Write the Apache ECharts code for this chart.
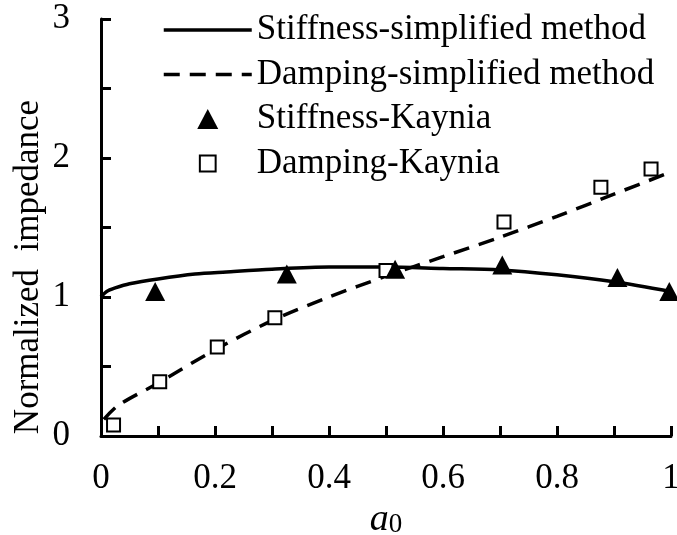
<!DOCTYPE html>
<html>
<head>
<meta charset="utf-8">
<script src="https://cdn.jsdelivr.net/npm/echarts@6/dist/echarts.min.js"></script>
<style>
html,body{margin:0;padding:0;background:#fff;}
#chart{width:677px;height:535px;}
</style>
</head>
<body>
<div id="chart"></div>
<script>
// ---- data ----
var seriesNames = ['Stiffness-simplified method', 'Damping-simplified method', 'Stiffness-Kaynia', 'Damping-Kaynia'];
var stiffSimpX = [0, 0.01, 0.025, 0.05, 0.1, 0.165, 0.22, 0.3, 0.4, 0.5, 0.6, 0.7, 0.8, 0.9, 1.0];
var stiffSimpY = [1.0, 1.04, 1.065, 1.095, 1.13, 1.165, 1.18, 1.2, 1.215, 1.215, 1.205, 1.195, 1.16, 1.11, 1.04];
var dampSimpX = [0.005, 0.03, 0.1, 0.2, 0.3, 0.4, 0.5, 0.6, 0.7, 0.8, 0.9, 1.0];
var dampSimpY = [0.12, 0.22, 0.38, 0.62, 0.83, 1.0, 1.15, 1.29, 1.43, 1.58, 1.74, 1.9];
var stiffKayX = [0.095, 0.326, 0.516, 0.704, 0.906, 0.997];
var stiffKayY = [1.04, 1.165, 1.2, 1.23, 1.14, 1.04];
var dampKayX = [0.022, 0.103, 0.204, 0.305, 0.5, 0.707, 0.877, 0.965];
var dampKayY = [0.08, 0.39, 0.64, 0.85, 1.19, 1.54, 1.79, 1.92];
var xTicks = [0, 0.2, 0.4, 0.6, 0.8, 1];
var yTicks = [0, 1, 2, 3];
var xTitle = 'a';
var xTitleSub = '0';
var yTitle = 'Normalized  impedance';

function zip(xs, ys) { return xs.map(function (x, i) { return [x, ys[i]]; }); }
function isTick(v, list) { return list.some(function (t) { return Math.abs(t - v) < 1e-6; }); }

var FONT = "'Liberation Serif', 'Times New Roman', serif";
var hiddenSym = { color: 'rgba(0,0,0,0)', borderWidth: 0, opacity: 0 };
var DASH = [16, 10];
var chart = echarts.init(document.getElementById('chart'), null, { renderer: 'canvas' });
chart.setOption({
  backgroundColor: '#fff',
  animation: false,
  grid: { left: 101, right: 6, top: 19, bottom: 99, containLabel: false, outerBoundsMode: 'none' },
  legend: {
    data: [
      { name: seriesNames[0], itemStyle: hiddenSym, lineStyle: { width: 3.5, color: '#000', type: 'solid' } },
      { name: seriesNames[1], itemStyle: hiddenSym, lineStyle: { width: 3.5, color: '#000', type: DASH } },
      { name: seriesNames[2], icon: 'path://M10,0L20,19L0,19Z', itemStyle: { color: '#000', borderWidth: 0 } },
      { name: seriesNames[3], icon: 'path://M0,0M2,2L17,2L17,17L2,17ZM19,19', itemStyle: { color: '#fff', borderColor: '#000', borderWidth: 2 } }
    ],
    orient: 'vertical',
    left: 162,
    top: 12,
    padding: 0,
    itemWidth: 88,
    itemHeight: 20,
    itemGap: 8.5,
    symbolKeepAspect: true,
    textStyle: { fontFamily: FONT, fontSize: 35, color: '#000', lineHeight: 36 }
  },
  xAxis: {
    type: 'value', min: 0, max: 1, interval: 0.1,
    axisLine: { show: true, lineStyle: { color: '#000', width: 3 } },
    axisTick: { show: true, inside: true, length: 10, lineStyle: { color: '#000', width: 3 } },
    splitLine: { show: false },
    axisLabel: {
      margin: 25, fontFamily: FONT, fontSize: 35, color: '#000',
      formatter: function (v) { return isTick(v, xTicks) ? String(Math.round(v * 10) / 10) : ''; }
    },
    name: '{a|' + xTitle + '}{s|' + xTitleSub + '}',
    nameLocation: 'middle',
    nameGap: 62,
    nameTextStyle: {
      rich: {
        a: { fontFamily: FONT, fontStyle: 'italic', fontSize: 38, color: '#000', verticalAlign: 'bottom', lineHeight: 40 },
        s: { fontFamily: FONT, fontSize: 27, color: '#000', verticalAlign: 'bottom', lineHeight: 34 }
      }
    }
  },
  yAxis: {
    type: 'value', min: 0, max: 3, interval: 0.5,
    axisLine: { show: true, lineStyle: { color: '#000', width: 3 } },
    axisTick: { show: true, inside: true, length: 10, lineStyle: { color: '#000', width: 3 } },
    splitLine: { show: false },
    axisLabel: {
      margin: 31, fontFamily: FONT, fontSize: 35, color: '#000', padding: [6, 0, 0, 0],
      formatter: function (v) { return isTick(v, yTicks) ? String(v) : ''; }
    }
  },
  graphic: [{
    type: 'text',
    x: 29, y: 267,
    rotation: Math.PI / 2,
    style: { text: yTitle, fontFamily: FONT, fontSize: 35, fill: '#000', align: 'center', verticalAlign: 'middle' }
  }],
  series: [
    {
      name: seriesNames[0], type: 'line', data: zip(stiffSimpX, stiffSimpY), smooth: 0.3,
      symbol: 'none', z: 2,
      lineStyle: { color: '#000', width: 3.5 }, itemStyle: { color: '#000' }
    },
    {
      name: seriesNames[1], type: 'line', data: zip(dampSimpX, dampSimpY), smooth: 0.3,
      symbol: 'none', z: 2,
      lineStyle: { color: '#000', width: 3.5, type: DASH }, itemStyle: { color: '#000' }
    },
    {
      name: seriesNames[2], type: 'scatter', data: zip(stiffKayX, stiffKayY),
      symbol: 'triangle', symbolSize: [20, 19], z: 4,
      itemStyle: { color: '#000', opacity: 1 }
    },
    {
      name: seriesNames[3], type: 'scatter', data: zip(dampKayX, dampKayY),
      symbol: 'rect', symbolSize: 13, z: 3,
      itemStyle: { color: '#fff', borderColor: '#000', borderWidth: 2, opacity: 1 }
    }
  ]
});
</script>
</body>
</html>
